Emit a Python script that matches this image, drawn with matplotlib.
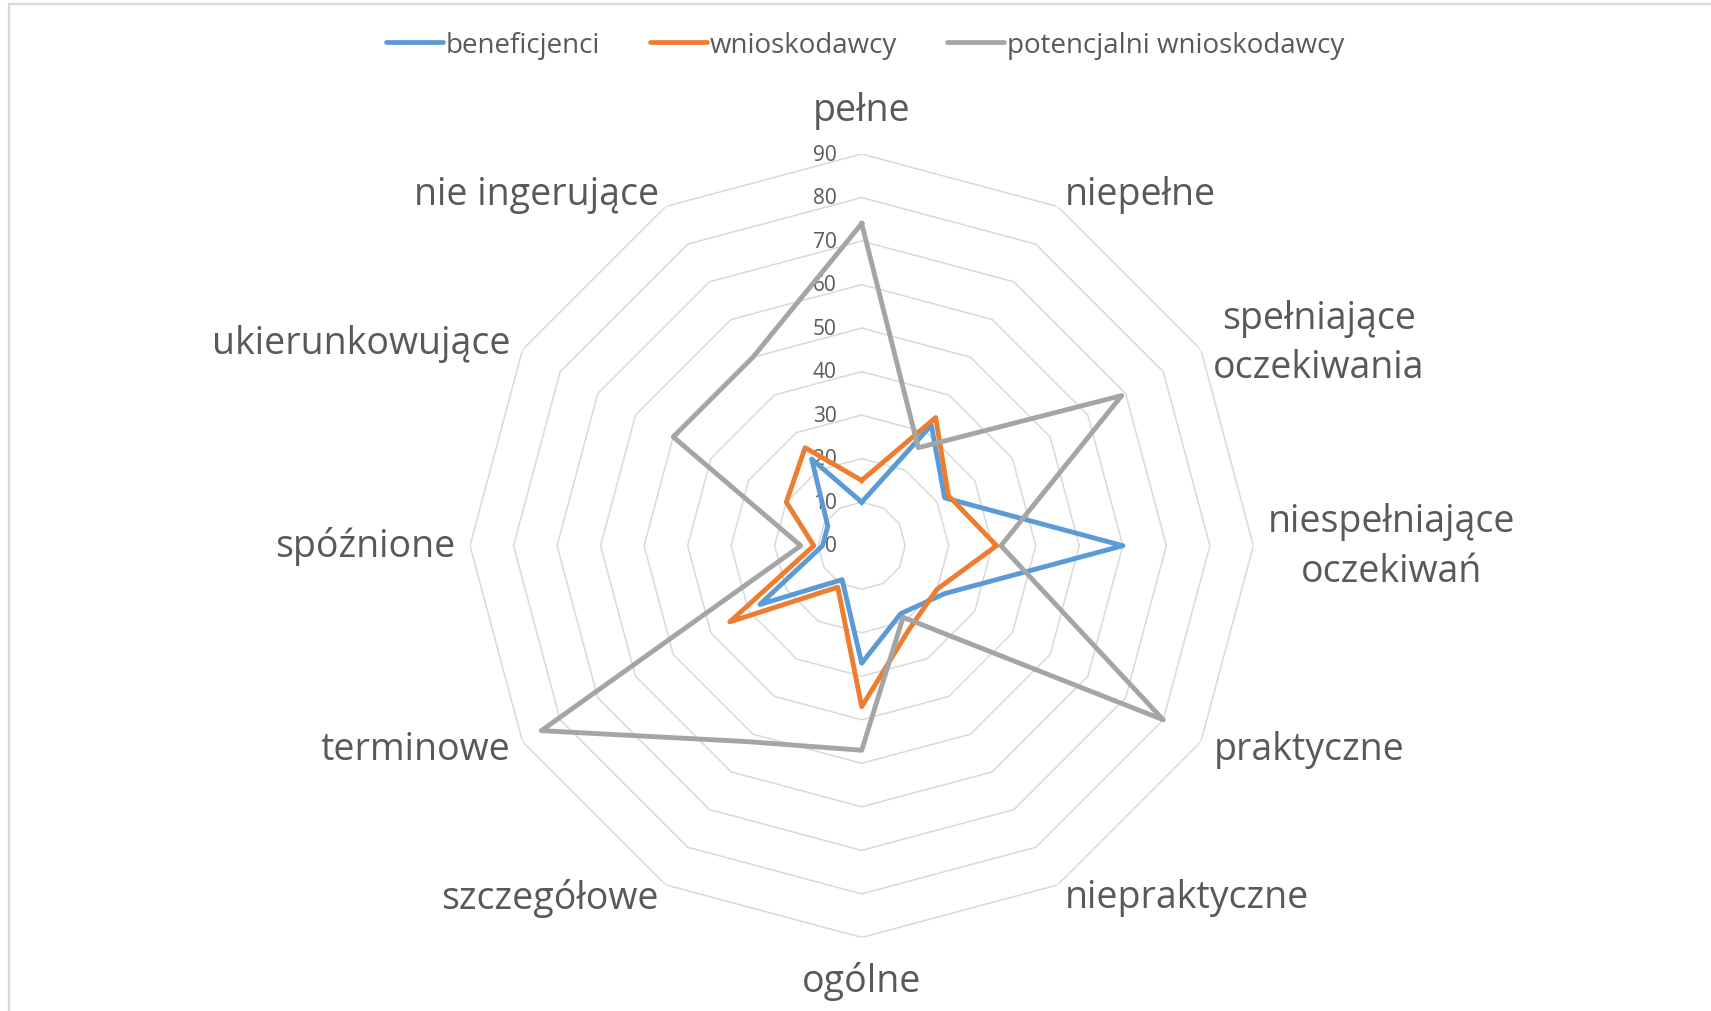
import numpy as np
import matplotlib
matplotlib.use('Agg')
import matplotlib.pyplot as plt
from matplotlib.lines import Line2D
from matplotlib.transforms import offset_copy

plt.rcParams['font.family'] = ['Open Sans', 'DejaVu Sans']

# %% dane

kategorie = ["pełne", "niepełne", "spełniające\noczekiwania", "niespełniające\noczekiwań",
             "praktyczne", "niepraktyczne", "ogólne", "szczegółowe", "terminowe",
             "spóźnione", "ukierunkowujące", "nie ingerujące"]

beneficjenci = [10, 32, 22, 60, 22, 18, 27, 9, 27, 9, 9, 23]
wnioskodawcy = [15, 34, 23, 31, 20, 22, 37, 11, 35, 11, 20, 26]
potencjalni = [74, 26, 69, 32, 80, 19, 47, 52, 85, 14, 50, 50]

serie = ["beneficjenci", "wnioskodawcy", "potencjalni wnioskodawcy"]
kolory = ["#5B9BD5", "#ED7D31", "#A5A5A5"]

poziomy = [0, 10, 20, 30, 40, 50, 60, 70, 80, 90]

# %% wykres

W, H = 1711, 1012
fig = plt.figure(figsize=(W / 100, H / 100), dpi=100)

cx, cy, rad = 861.7, 546.7, 391.7
ax = fig.add_axes([(cx - rad) / W, (H - cy - rad) / H, 2 * rad / W, 2 * rad / H], polar=True)
ax.set_theta_zero_location('N')
ax.set_theta_direction(-1)
ax.set_ylim(0, 90)
ax.grid(False)
ax.spines['polar'].set_visible(False)
ax.set_xticks([])
ax.set_yticks([])
ax.patch.set_alpha(0)

n = len(kategorie)
katy = np.linspace(0, 2 * np.pi, n, endpoint=False)
katy_z = np.append(katy, katy[0])

# siatka wielokatna
for p in poziomy[1:]:
    ax.plot(katy_z, [p] * (n + 1), color="#D9D9D9", lw=1.1, zorder=1)

# etykiety osi
tr = offset_copy(ax.transData, fig=fig, x=-25, y=0, units='dots')
for p in poziomy:
    ax.text(0, p, str(p), transform=tr, ha='right', va='center',
            fontsize=15, color="#595959", zorder=2)

# serie
for wartosci, nazwa, kolor in zip([beneficjenci, wnioskodawcy, potencjalni], serie, kolory):
    ax.plot(katy_z, wartosci + wartosci[:1], color=kolor, lw=3.5,
            solid_joinstyle='round', label=nazwa, zorder=3)

# etykiety kategorii
for kat, etykieta in zip(katy, kategorie):
    st = np.degrees(kat)
    if st == 0 or st == 180:
        r, ha = 100.0, 'center'
    elif st < 180:
        r, ha = 93.3, 'left'
    else:
        r, ha = 93.3, 'right'
    ax.text(kat, r, etykieta, ha=ha, va='center', fontsize=27,
            color="#595959", multialignment='center', linespacing=1.4)

uchwyty = [Line2D([0], [0], color=k, lw=3.4, solid_capstyle='round') for k in kolory]
fig.legend(uchwyty, serie, loc='center', bbox_to_anchor=(865 / W, 1 - 46 / H), ncol=3,
           frameon=False, fontsize=20, handlelength=2.05, handletextpad=0.1,
           columnspacing=1.8, labelcolor="#595959")

# ramka obszaru wykresu
fig.add_artist(Line2D([9 / W, 1], [1 - 4.5 / H, 1 - 4.5 / H], color="#D9D9D9", lw=1.6))
fig.add_artist(Line2D([9 / W, 9 / W], [0, 1 - 4.5 / H], color="#D9D9D9", lw=1.6))

plt.savefig("out.png", dpi=100)
plt.close()
